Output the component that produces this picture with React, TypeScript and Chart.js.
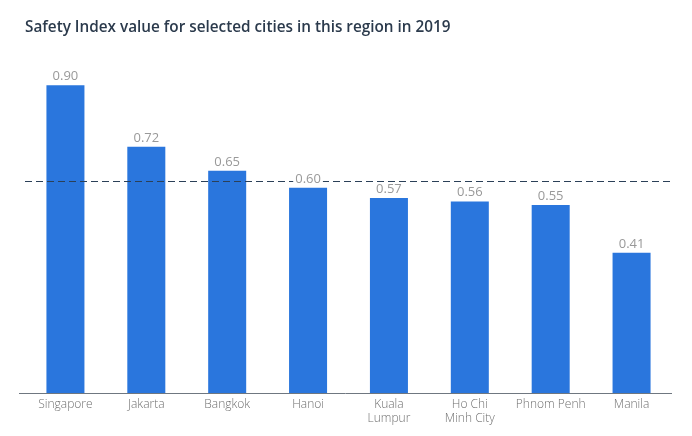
import React, { useEffect, useRef } from "react";
import { Chart, registerables } from "chart.js";

Chart.register(...registerables);

const cities: (string | string[])[] = [
  "Singapore",
  "Jakarta",
  "Bangkok",
  "Hanoi",
  ["Kuala", "Lumpur"],
  ["Ho Chi", "Minh City"],
  "Phnom Penh",
  "Manila",
];
const safetyIndex = [0.9, 0.72, 0.65, 0.6, 0.57, 0.56, 0.55, 0.41];
const averageValue = 0.62;
const titleText = "Safety Index value for selected cities in this region in 2019";

const FONT = "'Open Sans', 'Noto Sans', sans-serif";

const overlayPlugin = {
  id: "overlay",
  afterDatasetsDraw(chart: any) {
    const { ctx, chartArea, scales } = chart;
    const y = scales.y;
    ctx.save();
    // axis line
    ctx.strokeStyle = "#6f7780";
    ctx.lineWidth = 1;
    ctx.beginPath();
    const by = Math.round(y.getPixelForValue(0)) + 0.5;
    ctx.moveTo(chartArea.left - 6, by);
    ctx.lineTo(chartArea.right, by);
    ctx.stroke();
    // dashed average line
    const ay = Math.round(y.getPixelForValue(averageValue)) + 0.5;
    ctx.strokeStyle = "#2b4058";
    ctx.setLineDash([7, 4]);
    ctx.beginPath();
    ctx.moveTo(chartArea.left, ay);
    ctx.lineTo(chartArea.right, ay);
    ctx.stroke();
    ctx.setLineDash([]);
    // value labels
    const meta = chart.getDatasetMeta(0);
    ctx.font = `13px ${FONT}`;
    ctx.textAlign = "center";
    ctx.textBaseline = "alphabetic";
    meta.data.forEach((bar: any, i: number) => {
      const txt = safetyIndex[i].toFixed(2);
      const w = ctx.measureText(txt).width;
      const ty = bar.y - 5;
      ctx.fillStyle = "#ffffff";
      ctx.fillRect(bar.x - w / 2 - 2, ty - 11, w + 4, 13);
      ctx.fillStyle = "#999999";
      ctx.fillText(txt, bar.x, ty);
    });
    // title
    ctx.font = `600 15.3px ${FONT}`;
    ctx.textAlign = "left";
    ctx.fillStyle = "#2b3a4c";
    ctx.fillText(titleText, 25, 32);
    ctx.restore();
  },
};

export default function App() {
  const ref = useRef<HTMLCanvasElement | null>(null);
  useEffect(() => {
    document.body.style.margin = "0";
    const chart = new Chart(ref.current as HTMLCanvasElement, {
      type: "bar",
      data: {
        labels: cities,
        datasets: [
          {
            data: safetyIndex,
            backgroundColor: "#2a76dd",
            borderWidth: 0,
            categoryPercentage: 1,
            barPercentage: 0.47,
          },
        ],
      },
      options: {
        animation: false,
        responsive: false,
        maintainAspectRatio: false,
        layout: { padding: { left: 25, right: 20, top: 51, bottom: 0 } },
        plugins: {
          legend: { display: false },
          tooltip: { enabled: false },
          title: { display: false },
        },
        scales: {
          x: {
            grid: { display: false, drawTicks: false },
            border: { display: false },
            ticks: {
              color: "#707070",
              font: { family: FONT, size: 12, weight: "300" },
              padding: 4,
              maxRotation: 0,
              autoSkip: false,
            },
            afterFit: (scale: any) => {
              scale.height = 43;
            },
          },
          y: {
            display: false,
            min: 0,
            max: 1,
          },
        },
      },
      plugins: [overlayPlugin],
    });
    return () => chart.destroy();
  }, []);
  return (
    <div style={{ width: 692, height: 436, background: "#fff" }}>
      <canvas ref={ref} width={692} height={436} style={{ display: "block" }} />
    </div>
  );
}
